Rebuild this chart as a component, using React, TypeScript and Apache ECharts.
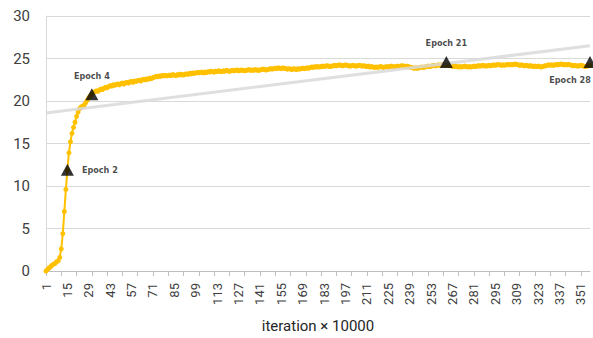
import React, { useEffect, useRef } from "react";
import * as echarts from "echarts";

const lossValues: number[] = [
  0.0, 0.2, 0.35, 0.5, 0.7, 0.8, 0.9, 1.1, 1.2, 1.6,
  2.6, 4.4, 7.0, 9.6, 11.9, 13.9, 15.2, 16.2, 16.9, 17.5,
  18.2, 18.7, 19.1, 19.3, 19.4, 19.5, 19.8, 20.1, 20.4, 20.6,
  20.8, 21.0, 21.1, 21.2, 21.15, 21.3, 21.4, 21.35, 21.5, 21.6,
  21.55, 21.7, 21.8, 21.75, 21.9, 21.85, 21.95, 22.0, 21.9, 22.05,
  22.1, 22.0, 22.15, 22.2, 22.1, 22.25, 22.3, 22.2, 22.35, 22.3,
  22.4, 22.45, 22.35, 22.5, 22.55, 22.5, 22.6, 22.55, 22.7, 22.65,
  22.75, 22.8, 22.9, 22.85, 22.95, 22.9, 23.0, 22.95, 23.0, 22.95,
  23.0, 23.05, 23.0, 23.1, 23.05, 23.0, 23.1, 23.05, 23.15, 23.1,
  23.05, 23.15, 23.2, 23.15, 23.25, 23.2, 23.3, 23.25, 23.3, 23.35,
  23.3, 23.35, 23.4, 23.3, 23.4, 23.35, 23.45, 23.4, 23.5, 23.45,
  23.4, 23.5, 23.45, 23.55, 23.5, 23.45, 23.55, 23.5, 23.6, 23.55,
  23.5, 23.55, 23.6, 23.55, 23.6, 23.65, 23.55, 23.6, 23.65, 23.6,
  23.55, 23.6, 23.65, 23.7, 23.6, 23.65, 23.6, 23.7, 23.65, 23.6,
  23.65, 23.7, 23.75, 23.7, 23.65, 23.7, 23.75, 23.8, 23.75, 23.8,
  23.85, 23.8, 23.9, 23.85, 23.8, 23.9, 23.85, 23.8, 23.75, 23.8,
  23.75, 23.7, 23.8, 23.75, 23.7, 23.8, 23.75, 23.8, 23.85, 23.8,
  23.85, 23.9, 23.85, 23.95, 24.0, 23.95, 24.05, 24.0, 24.05, 24.0,
  24.05, 24.1, 24.05, 24.1, 24.15, 24.1, 24.05, 24.1, 24.15, 24.2,
  24.15, 24.2, 24.25, 24.2, 24.15, 24.2, 24.25, 24.2, 24.15, 24.1,
  24.15, 24.2, 24.15, 24.1, 24.15, 24.2, 24.15, 24.1, 24.15, 24.1,
  24.05, 24.1, 24.0, 24.05, 24.0, 23.95, 24.0, 23.95, 24.0, 24.05,
  24.0, 23.95, 24.0, 24.05, 24.0, 24.05, 24.1, 24.05, 24.0, 24.05,
  24.1, 24.05, 24.1, 24.15, 24.1, 24.05, 24.1, 24.05, 24.0, 23.95,
  23.9, 23.85, 23.9, 23.85, 23.9, 23.95, 24.0, 23.95, 24.0, 24.05,
  24.1, 24.05, 24.1, 24.15, 24.2, 24.15, 24.2, 24.25, 24.2, 24.25,
  24.3, 24.25, 24.3, 24.25, 24.2, 24.15, 24.1, 24.05, 24.1, 24.05,
  24.0, 24.05, 24.0, 24.05, 24.1, 24.05, 24.0, 24.05, 24.0, 24.05,
  24.1, 24.05, 24.1, 24.15, 24.1, 24.15, 24.2, 24.15, 24.1, 24.15,
  24.2, 24.15, 24.2, 24.25, 24.2, 24.25, 24.3, 24.25, 24.2, 24.25,
  24.2, 24.25, 24.3, 24.25, 24.3, 24.25, 24.3, 24.35, 24.3, 24.25,
  24.2, 24.25, 24.2, 24.15, 24.2, 24.15, 24.1, 24.15, 24.1, 24.05,
  24.1, 24.05, 24.1, 24.05, 24.0, 24.05, 24.1, 24.15, 24.2, 24.25,
  24.2, 24.25, 24.2, 24.25, 24.3, 24.25, 24.3, 24.35, 24.3, 24.25,
  24.3, 24.25, 24.3, 24.25, 24.2, 24.15, 24.2, 24.15, 24.1, 24.15,
  24.2, 24.15, 24.1, 24.05, 24.1, 24.15, 24.2,
];

const categories: string[] = lossValues.map((_, i) => String(i + 1));

const epochCategories: string[] = ["15", "31", "263", "357"];
const epochValues: number[] = [11.9, 20.8, 24.6, 24.6];
const epochLabels: string[] = ["Epoch 2", "Epoch 4", "Epoch 21", "Epoch 28"];
const epochLabelPositions: string[] = ["right", "top", "top", "bottom"];

const trendStart = 18.6;
const trendEnd = 26.5;

const yTicks = { min: 0, max: 30, interval: 5 };
const xAxisTitle = "iteration × 10000";

export default function App() {
  const ref = useRef<HTMLDivElement>(null);

  useEffect(() => {
    document.body.style.margin = "0";
    if (!ref.current) return;
    const chart = echarts.init(ref.current, undefined, { renderer: "svg" });

    const trendData = categories.map((_, i) =>
      i === 0 ? trendStart : i === categories.length - 1 ? trendEnd : null
    );

    const textFont = "Roboto, 'Noto Sans', sans-serif";
    const labelFont = "'DejaVu Sans Condensed', 'Liberation Sans Narrow', Roboto, sans-serif";

    chart.setOption({
      animation: false,
      backgroundColor: "#ffffff",
      grid: { left: 46, right: 3, top: 16, bottom: 67, containLabel: false },
      xAxis: {
        type: "category",
        data: categories,
        boundaryGap: false,
        name: xAxisTitle,
        nameLocation: "middle",
        nameGap: 47,
        nameTextStyle: { fontSize: 15, color: "#262626", fontFamily: textFont },
        axisLine: { show: true, lineStyle: { color: "#bfbfbf", width: 1 } },
        axisTick: { show: true, interval: 9, length: 5, lineStyle: { color: "#bfbfbf" } },
        axisLabel: {
          interval: 13,
          rotate: 90,
          fontSize: 13,
          margin: 12,
          color: "#404040",
          fontFamily: textFont,
        },
        splitLine: { show: false },
      },
      yAxis: {
        type: "value",
        min: yTicks.min,
        max: yTicks.max,
        interval: yTicks.interval,
        axisLine: { show: true, lineStyle: { color: "#d9d9d9" } },
        axisTick: { show: false },
        axisLabel: { fontSize: 15, margin: 16, color: "#404040", fontFamily: textFont },
        splitLine: { show: true, lineStyle: { color: "#d9d9d9", width: 1 } },
      },
      series: [
        {
          type: "line",
          data: lossValues,
          symbol: "circle",
          symbolSize: 5,
          showSymbol: true,
          showAllSymbol: true,
          lineStyle: { color: "#FFC000", width: 2 },
          itemStyle: { color: "#FFC000" },
          z: 2,
        },
        {
          type: "line",
          data: trendData,
          connectNulls: true,
          symbol: "none",
          lineStyle: { color: "#d9d9d9", width: 3, opacity: 0.85 },
          z: 3,
        },
        {
          type: "scatter",
          data: epochCategories.map((c, i) => ({
            value: [c, epochValues[i]],
            label: {
              show: true,
              formatter: epochLabels[i],
              position: epochLabelPositions[i],
              distance: 8,
              offset: i === epochCategories.length - 1 ? [-20, 0] : [0, 0],
            },
          })),
          symbol: "triangle",
          symbolSize: [13, 12],
          itemStyle: { color: "#000000" },
          label: {
            fontSize: 9,
            fontWeight: "bold",
            color: "#1a1a1a",
            fontFamily: labelFont,
          },
          z: 4,
        },
      ],
    });

    return () => {
      chart.dispose();
    };
  }, []);

  return (
    <div
      ref={ref}
      style={{ position: "absolute", left: 0, top: 0, width: 593, height: 338 }}
    />
  );
}
